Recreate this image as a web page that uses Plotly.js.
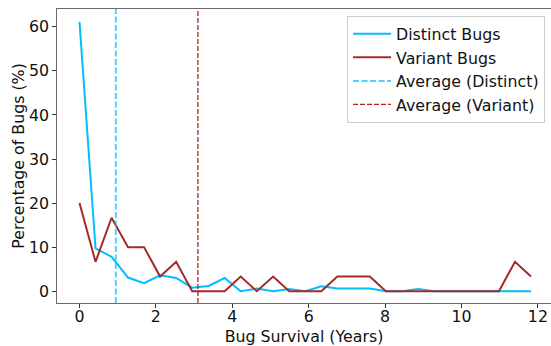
<!DOCTYPE html>
<html>
<head>
<meta charset="utf-8">
<script src="https://cdn.plot.ly/plotly-3.0.1.min.js"></script>
<style>html,body{margin:0;padding:0;background:#fff;}#chart{width:551px;height:346px;}</style>
</head>
<body>
<div id="chart"></div>
<script>
// Bug survival bins (years)
const survivalYears = [0, 0.42, 0.84, 1.27, 1.69, 2.11, 2.53, 2.95, 3.38, 3.80, 4.22, 4.64, 5.07, 5.49, 5.91, 6.33, 6.75, 7.18, 7.60, 8.02, 8.44, 8.86, 9.29, 9.71, 10.13, 10.55, 10.98, 11.40, 11.82];
// Percentage of distinct bugs per bin
const distinctPct = [61.1, 9.7, 7.8, 3.1, 1.8, 3.6, 3.0, 0.8, 1.2, 3.0, 0, 0.6, 0, 0.5, 0, 1.1, 0.6, 0.6, 0.6, 0, 0, 0.5, 0, 0, 0, 0, 0, 0, 0];
// Percentage of variant bugs per bin
const variantPct = [20.0, 6.67, 16.67, 10.0, 10.0, 3.33, 6.67, 0, 0, 0, 3.33, 0, 3.33, 0, 0, 0, 3.33, 3.33, 3.33, 0, 0, 0, 0, 0, 0, 0, 0, 6.67, 3.33];
// Averages (years)
const avgDistinct = 0.95;
const avgVariant = 3.10;
// Ticks
const xTicks = [0, 2, 4, 6, 8, 10, 12];
const yTicks = [0, 10, 20, 30, 40, 50, 60];
const seriesNames = ["Distinct Bugs", "Variant Bugs", "Average (Distinct)", "Average (Variant)"];

const xRange = [-0.589, 12.343];
const yRange = [-2.68, 64.06];

const FONT = "DejaVu Sans, sans-serif";
const FS = 15.8;

const traces = [
  {x: survivalYears, y: distinctPct, mode: "lines", name: seriesNames[0],
   line: {color: "#00BFFF", width: 2}},
  {x: survivalYears, y: variantPct, mode: "lines", name: seriesNames[1],
   line: {color: "#A52A2A", width: 2}},
  {x: [avgDistinct, avgDistinct], y: yRange, mode: "lines", name: seriesNames[2],
   line: {color: "rgba(0,191,255,0.7)", width: 2, dash: "6px,2.5px"}},
  {x: [avgVariant, avgVariant], y: yRange, mode: "lines", name: seriesNames[3],
   line: {color: "#B22222", width: 1.3, dash: "5px,2px"}}
];

const axisCommon = {
  showgrid: false, zeroline: false, showline: true, linecolor: "#6b6b6b", linewidth: 1.3,
  ticks: "outside", ticklen: 3.5, tickwidth: 1, tickcolor: "#333",
  tickfont: {family: FONT, size: FS, color: "#111"}
};

const layout = {
  width: 551, height: 346,
  margin: {l: 57, r: 0, t: 9, b: 43, pad: 0},
  paper_bgcolor: "#fff", plot_bgcolor: "#fff",
  font: {family: FONT, size: FS, color: "#111"},
  xaxis: Object.assign({}, axisCommon, {
    range: xRange, tickmode: "array", tickvals: xTicks, ticktext: xTicks.map(String),
    mirror: true, ticklabelstandoff: -5,
    title: {text: "Bug Survival (Years)", font: {family: FONT, size: FS, color: "#111"}, standoff: 12}
  }),
  yaxis: Object.assign({}, axisCommon, {
    range: yRange, tickmode: "array", tickvals: yTicks, ticktext: yTicks.map(String),
    title: {text: "Percentage of Bugs (%)", font: {family: FONT, size: FS, color: "#111"}, standoff: 0}
  }),
  showlegend: true,
  legend: {
    x: 0.988, y: 0.976, xanchor: "right", yanchor: "top",
    bgcolor: "rgba(255,255,255,0.8)", bordercolor: "#cccccc", borderwidth: 1,
    font: {family: FONT, size: FS, color: "#111"},
    itemwidth: 38, tracegroupgap: 0
  }
};

Plotly.newPlot("chart", traces, layout, {staticPlot: true, displayModeBar: false});
</script>
</body>
</html>
